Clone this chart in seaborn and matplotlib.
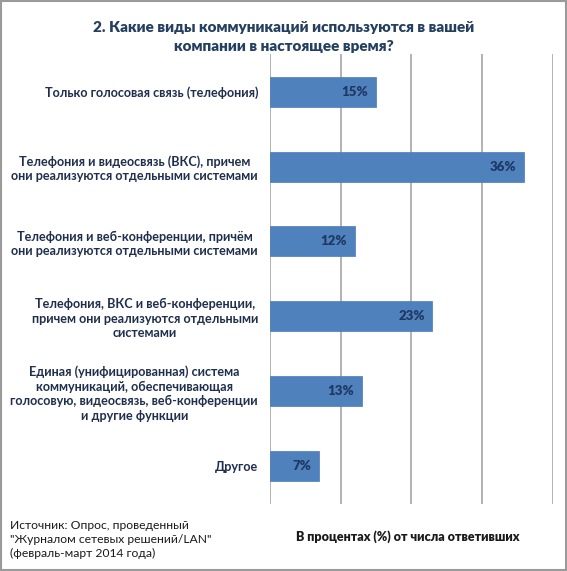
import matplotlib
matplotlib.use("Agg")
import matplotlib.pyplot as plt
import seaborn as sns
import pandas as pd
from matplotlib.patches import Rectangle

# data
categories = [
    "Только голосовая связь (телефония)",
    "Телефония и видеосвязь (ВКС), причем\nони реализуются отдельными системами",
    "Телефония и веб-конференции, причём\nони реализуются отдельными системами",
    "Телефония, ВКС и веб-конференции,\nпричем они реализуются отдельными\nсистемами",
    "Единая (унифицированная) система\nкоммуникаций, обеспечивающая\nголосовую, видеосвязь, веб-конференции\nи другие функции",
    "Другое",
]
values = [15, 36, 12, 23, 13, 7]

title = "2. Какие виды коммуникаций используются в вашей\nкомпании в настоящее время?"
source = 'Источник: Опрос, проведенный\n"Журналом сетевых решений/LAN"\n(февраль-март 2014 года)'
unit_note = "В процентах (%) от числа ответивших"

sns.set_style("white")
plt.rcParams["font.family"] = ["Lato", "DejaVu Sans"]

df = pd.DataFrame({"category": categories, "value": values})

bar_color = "#4F81BD"
text_color = "#1F2F4D"

fig = plt.figure(figsize=(5.67, 5.71), dpi=100)
ax = fig.add_axes([0.476, 0.1174, 0.4986, 0.788])

sns.barplot(data=df, x="value", y="category", color=bar_color, saturation=1,
            width=0.4, ax=ax, edgecolor="#4A7BB7", linewidth=0.5)

ax.set_xlim(0, 40)
ax.set_xticks([0, 10, 20, 30, 40])
ax.xaxis.grid(True, color="#A6A6A6", linewidth=1.2)
ax.set_axisbelow(True)
ax.tick_params(axis="x", length=0, labelbottom=False)
ax.tick_params(axis="y", length=0, pad=8.5)
ax.set_xlabel("")
ax.set_ylabel("")
for s in ax.spines.values():
    s.set_visible(False)

for lbl in ax.get_yticklabels():
    lbl.set_multialignment("center")
    lbl.set_fontweight("bold")
    lbl.set_fontsize(9.1)
    lbl.set_color(text_color)
    lbl.set_linespacing(1.25)

for c in ax.containers:
    texts = ax.bar_label(c, labels=[f"{v}%" for v in values], label_type="edge",
                         padding=-5.5, fontsize=9.5, fontweight=800, color="#1F3864")
    for t in texts:
        t.set_ha("right")

fig.text(0.5, 0.935, title, ha="center", va="center", fontsize=11,
         fontweight=800, color="#243F60", linespacing=1.6)
fig.text(0.018, 0.055, source, ha="left", va="center", fontsize=8.7,
         color="#1A1A1A", linespacing=1.3)
fig.text(0.522, 0.061, unit_note, ha="left", va="center", fontsize=9,
         fontweight=800, color="#1A1A1A")

fig.patches.append(Rectangle((0.002, 0.002), 0.996, 0.996, transform=fig.transFigure,
                             fill=False, edgecolor="#9A9A9A", linewidth=1.5))

fig.savefig("out.png", dpi=100)
